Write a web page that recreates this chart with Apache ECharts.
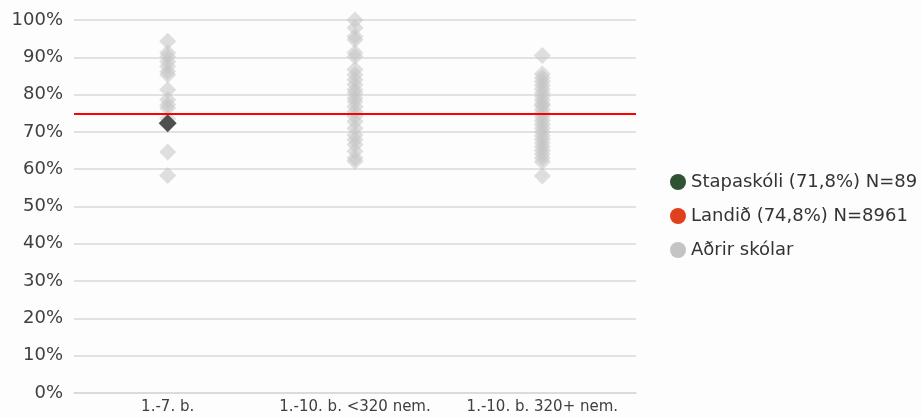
<!DOCTYPE html>
<html><head><meta charset="utf-8">
<script src="https://cdn.jsdelivr.net/npm/echarts@6/dist/echarts.min.js"></script>
<style>html,body{margin:0;padding:0;background:#fdfdfd}#c{width:922px;height:418px}</style>
</head><body><div id="c"></div>
<script>
const categories = ['1.-7. b.', '1.-10. b. <320 nem.', '1.-10. b. 320+ nem.'];
const yTicks = [0, 10, 20, 30, 40, 50, 60, 70, 80, 90, 100];
const otherSchools1 = [94.3, 91.2, 90.2, 88.9, 87.6, 86.2, 85.3, 81.3, 78.6, 77.3, 76.4, 73.5, 64.6, 58.3];
const otherSchools2 = [100, 97.9, 95.6, 94.7, 91.2, 90.2, 86.7, 85.3, 84, 82.7, 81.3, 80.4, 79.1, 78.2, 76.8, 75.5, 74.2, 72.8, 71, 69.2, 67.9, 66.6, 64.8, 63, 62.1];
const otherSchools3 = [90.5, 85.5, 84.5, 83.5, 82.5, 81.5, 80.5, 79.5, 78.5, 77.5, 77, 76, 75, 74, 73, 72, 71, 70, 69, 68, 67, 66, 65, 64, 63, 62, 58.2];
const schoolValue = 72.3;
const schoolCategory = 0;
const nationalValue = 74.8;
const legendNames = ['Stapaskóli (71,8%) N=89', 'Landið (74,8%) N=8961', 'Aðrir skólar'];

const others = [];
[otherSchools1, otherSchools2, otherSchools3].forEach((arr, i) => arr.forEach(v => others.push([i, v])));

const chart = echarts.init(document.getElementById('c'), null, {renderer: 'canvas'});
const fontFam = '"DejaVu Sans", sans-serif';
chart.setOption({
  backgroundColor: '#fdfdfd',
  animation: false,
  grid: {left: 74, right: 286, top: 20, bottom: 25, containLabel: false},
  xAxis: {
    type: 'category', data: categories, boundaryGap: true,
    axisLine: {show: true, lineStyle: {color: '#d9d9d9', width: 1.5}},
    axisTick: {show: false},
    axisLabel: {color: '#404040', fontSize: 15, fontFamily: fontFam, margin: 7, interval: 0, hideOverlap: false}
  },
  yAxis: {
    type: 'value', min: yTicks[0], max: yTicks[yTicks.length - 1], interval: 10,
    axisLine: {show: false}, axisTick: {show: false},
    splitLine: {lineStyle: {color: '#d9d9d9', width: 1.5}},
    axisLabel: {color: '#404040', fontSize: 18, fontFamily: fontFam, margin: 11, formatter: '{value}%'}
  },
  legend: {
    orient: 'vertical', left: 665, top: 168, itemGap: 16,
    itemWidth: 16, itemHeight: 16, icon: 'circle',
    textStyle: {color: '#333', fontSize: 18, fontFamily: fontFam, padding: [0, 0, 0, 0]},
    data: [
      {name: legendNames[0], itemStyle: {color: '#2f5232', opacity: 1}},
      {name: legendNames[1], itemStyle: {color: '#e0401c', opacity: 1}},
      {name: legendNames[2], itemStyle: {color: '#c4c4c4', opacity: 1}}
    ]
  },
  series: [
    {
      name: legendNames[2], type: 'scatter', symbol: 'diamond', symbolSize: 17,
      itemStyle: {color: '#c4c4c4', opacity: 0.55}, data: others, z: 2
    },
    {
      name: legendNames[1], type: 'line', data: [], symbol: 'none',
      lineStyle: {color: '#ff0000', width: 2},
      markLine: {
        silent: true, symbol: 'none', label: {show: false},
        lineStyle: {color: '#ff0000', width: 2, type: 'solid'},
        data: [{yAxis: nationalValue}]
      }, z: 3
    },
    {
      name: legendNames[0], type: 'scatter', symbol: 'diamond', symbolSize: 18,
      itemStyle: {color: '#4f4f4f', opacity: 1}, data: [[schoolCategory, schoolValue]], z: 4
    }
  ]
});
</script></body></html>
